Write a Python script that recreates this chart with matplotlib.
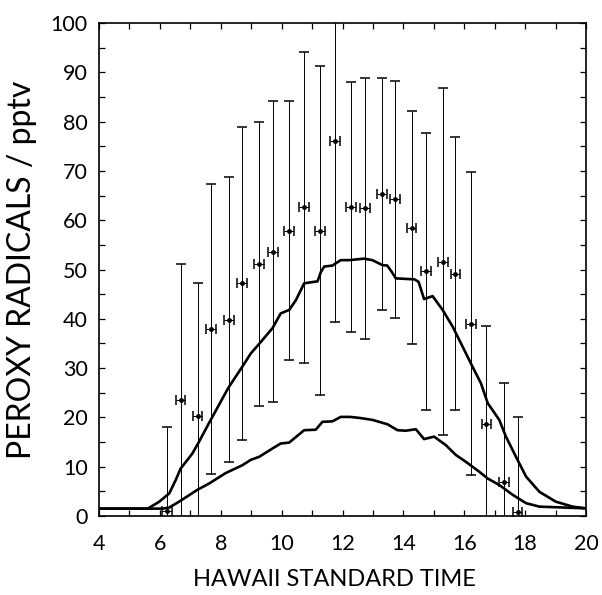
import matplotlib
matplotlib.use("Agg")
import matplotlib.pyplot as plt
from matplotlib.ticker import MultipleLocator

plt.rcParams['font.family'] = ['Lato', 'DejaVu Sans']
plt.rcParams['font.weight'] = 'normal'

# Measured peroxy radical concentrations (mean +/- 1 sigma), binned by time of day
obs_time = [6.23, 6.68, 7.24, 7.69, 8.26, 8.69, 9.26, 9.71, 10.25, 10.73, 11.27, 11.76,
            12.27, 12.73, 13.30, 13.73, 14.27, 14.74, 15.31, 15.71, 16.22, 16.73, 17.31, 17.75]
obs_mean = [1.0, 23.5, 20.2, 37.9, 39.8, 47.2, 51.1, 53.6, 57.9, 62.6, 57.9, 76.1,
            62.7, 62.4, 65.3, 64.2, 58.5, 49.6, 51.6, 49.1, 39.0, 18.7, 6.8, 0.9]
obs_err = [17.0, 27.6, 27.0, 29.4, 28.9, 31.7, 28.8, 30.5, 26.2, 31.6, 33.3, 36.7,
           25.3, 26.4, 23.6, 24.1, 23.7, 28.1, 35.2, 27.7, 30.7, 19.9, 20.1, 19.1]
bin_halfwidth = 0.16

# Model curve (upper)
model_hi_time = [4.0, 5.6, 5.98, 6.31, 6.52, 6.68, 7.07, 7.28, 7.61, 8.16, 8.27, 8.71,
                 8.99, 9.26, 9.70, 9.97, 10.25, 10.47, 10.74, 11.18, 11.29, 11.40, 11.67,
                 11.94, 12.22, 12.71, 12.98, 13.31, 13.47, 13.62, 13.75, 14.36, 14.50,
                 14.68, 14.96, 15.29, 15.62, 15.95, 16.27, 16.55, 16.77, 17.15, 17.37,
                 17.70, 18.03, 18.47, 19.01, 19.56, 20.0]
model_hi = [1.5, 1.5, 2.9, 4.6, 7.3, 9.6, 12.7, 15.0, 18.8, 25.0, 26.2, 30.3,
            33.0, 34.9, 38.1, 41.1, 41.8, 43.8, 47.2, 47.6, 49.5, 50.6, 50.8,
            51.9, 51.9, 52.2, 51.9, 50.9, 50.8, 49.5, 48.2, 48.0, 47.5,
            44.0, 44.6, 41.8, 38.4, 34.3, 30.3, 26.9, 22.9, 19.5, 16.1,
            12.0, 8.0, 4.9, 2.9, 1.9, 1.55]

# Model curve (lower)
model_lo_time = [4.0, 6.1, 6.30, 6.63, 7.23, 7.62, 8.16, 8.71, 8.99, 9.26, 9.70, 9.97,
                 10.25, 10.74, 11.12, 11.34, 11.67, 11.94, 12.25, 12.55, 12.98, 13.48,
                 13.81, 14.08, 14.41, 14.68, 15.01, 15.39, 15.72, 16.05, 16.49, 16.77,
                 17.15, 17.59, 18.03, 18.47, 19.35, 20.0]
model_lo = [1.5, 1.5, 1.7, 2.9, 5.3, 6.6, 8.7, 10.3, 11.4, 12.0, 13.7, 14.7,
            14.9, 17.4, 17.5, 19.1, 19.2, 20.1, 20.1, 19.9, 19.5, 18.6,
            17.4, 17.3, 17.6, 15.6, 16.1, 14.4, 12.4, 11.0, 9.0, 7.6,
            6.3, 4.3, 2.6, 1.9, 1.7, 1.55]

x_ticks = [4, 6, 8, 10, 12, 14, 16, 18, 20]
y_ticks = [0, 10, 20, 30, 40, 50, 60, 70, 80, 90, 100]

fig = plt.figure(figsize=(6.02, 5.95), dpi=100)
ax = fig.add_axes([99 / 602, 1 - 516 / 595, 487 / 602, 493 / 595])

ax.plot(model_hi_time, model_hi, color='black', lw=1.9, solid_joinstyle='round')
ax.plot(model_lo_time, model_lo, color='black', lw=1.9, solid_joinstyle='round')

ax.errorbar(obs_time, obs_mean, yerr=obs_err, xerr=bin_halfwidth, fmt='o',
            color='black', ms=2.5, elinewidth=0.7, capsize=3.5, capthick=1.1)

ax.set_xlim(4, 20)
ax.set_ylim(0, 100)
ax.set_xticks(x_ticks)
ax.set_yticks(y_ticks)
ax.xaxis.set_minor_locator(MultipleLocator(1))
ax.yaxis.set_minor_locator(MultipleLocator(5))
ax.tick_params(which='both', direction='in', top=True, right=True,
               length=4.5, width=0.9)
ax.tick_params(axis='x', which='major', labelsize=15.5, pad=13)
ax.tick_params(axis='y', which='major', labelsize=15.5, pad=8)
for s in ax.spines.values():
    s.set_linewidth(1.2)

fig.text(334 / 602, 1 - 580 / 595, 'HAWAII STANDARD TIME', ha='center', va='center',
         fontsize=17)
fig.text(22 / 602, 1 - 270 / 595, 'PEROXY RADICALS / pptv', ha='center', va='center',
         rotation=90, fontsize=23)

fig.savefig('out.png', dpi=100)
